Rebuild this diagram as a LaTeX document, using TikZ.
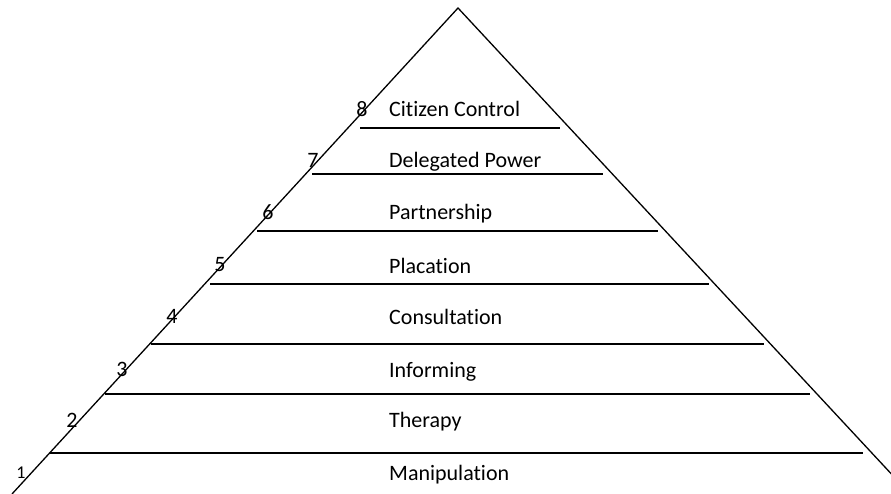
\documentclass[tikz,border=0pt]{standalone}
\usepackage{fontspec}
\setmainfont{Carlito}[RawFeature={-liga;-clig;-calt;-dlig}]
\begin{document}
\begin{tikzpicture}
        [x=1pt, y=-1pt,
        side/.style={black, line width=1.3pt},
        rung/.style={black, line width=1.3pt},
        rank/.style={font=\fontsize{22}{26}\selectfont, anchor=base, inner sep=0pt},
        level/.style={font=\fontsize{22}{26}\selectfont, anchor=base west, inner sep=0pt}]

        \useasboundingbox (0,0) rectangle (891,494);
        \clip (0,0) rectangle (891,494);

        % corners of the ladder
        \coordinate (top) at (458,8);
        \coordinate (left) at (12,494);
        \coordinate (right) at (910,494);

        \draw[side] (left) -- (top) -- (right);

        % rungs, from top to bottom
        \draw[rung] (360,128) -- (560,128);
        \draw[rung] (312,174) -- (603,174);
        \draw[rung] (257,231) -- (658,231);
        \draw[rung] (210,284) -- (709,284);
        \draw[rung] (151,344) -- (764,344);
        \draw[rung] (105,394) -- (810,394);
        \draw[rung] (50,453) -- (863,453);

        % rung numbers
        \node[rank] (n8) at (362,117) {8};
        \node[rank] (n7) at (313,168) {7};
        \node[rank] (n6) at (268,220) {6};
        \node[rank] (n5) at (220,272) {5};
        \node[rank] (n4) at (172,323) {4};
        \node[rank] (n3) at (122,376) {3};
        \node[rank] (n2) at (72,427) {2};
        \node[rank, font=\fontsize{18}{22}\selectfont] (n1) at (21,478) {1};

        % rung names
        \node[level] (l8) at (389,117) {Citizen Control};
        \node[level] (l7) at (389,168) {Delegated Power};
        \node[level] (l6) at (389,220) {Partnership};
        \node[level] (l5) at (389,273) {Placation};
        \node[level] (l4) at (389,324) {Consultation};
        \node[level] (l3) at (389,377) {Informing};
        \node[level] (l2) at (389,427) {Therapy};
        \node[level] (l1) at (389,480) {Manipulation};
    \end{tikzpicture}
\end{document}
